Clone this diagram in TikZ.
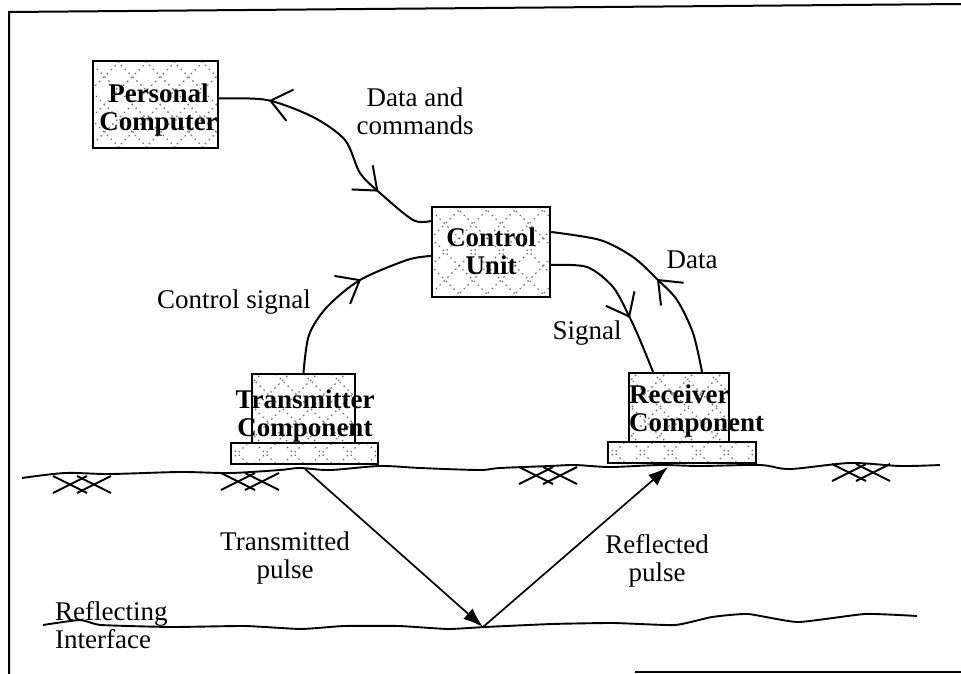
\documentclass[tikz,border=0pt]{standalone}
\usepackage{fontspec}
\setmainfont{Liberation Serif}
\usetikzlibrary{arrows.meta,decorations.markings,calc}
\newcommand\patbox[4]{%
  \begin{scope}
    \clip (#1,#2) rectangle (#3,#4);
    \foreach \k in {0,28,...,420}{
      \draw[patl] (#1-200+\k,#2) -- ++(200,200);
      \draw[patl] (#1-200+\k,#4) -- ++(200,-200);
    }
  \end{scope}}
\newcommand\gmark[2]{%
  \foreach \d in {-12,12}{
    \draw[gl] (#1+\d-17,#2-8) -- (#1+\d+17,#2+9);
    \draw[gl] (#1+\d-17,#2+9) -- (#1+\d+17,#2-8);
  }}
\tikzset{
  lbl/.style={font=\fontsize{27}{28}\selectfont, align=center, inner sep=0pt},
  blbl/.style={font=\fontsize{27}{28}\selectfont\bfseries, align=center, inner sep=0pt},
  unit/.style={draw, line width=2.4pt, inner sep=0pt},
  patl/.style={black!55, line width=1.3pt, dash pattern=on 1.5pt off 4pt},
  gl/.style={line width=2pt},
  conn/.style={line width=2pt},
  barb/.style={postaction={decorate, decoration={markings,
      mark=at position #1 with {\arrow[line width=2pt]{Straight Barb[length=20pt,width=32pt]}}}}},
  rbarb/.style={postaction={decorate, decoration={markings,
      mark=at position #1 with {\arrowreversed[line width=2pt]{Straight Barb[length=20pt,width=32pt]}}}}},
  pulse/.style={line width=1.7pt, -{Latex[length=20pt,width=14pt]}},
}
\begin{document}
\begin{tikzpicture}[x=1pt,y=-1pt]
\useasboundingbox (0,0) rectangle (961,674);
\fill[white] (0,0) rectangle (961,674);
% frame
\draw[line width=2pt] (9,674) -- (9,12) -- (961,4);
\draw[line width=2pt] (635,672) -- (961,672);

% patterned boxes
\patbox{93}{61}{218}{148}
\patbox{432}{207}{550}{297}
\patbox{252}{374}{355}{443}
\patbox{231}{443}{378}{464}
\patbox{629}{373}{729}{442}
\patbox{608}{442}{756}{463}

\node[unit, minimum width=125pt, minimum height=87pt] (pc) at (155.5,104.5) {};
\node[unit, minimum width=118pt, minimum height=90pt] (cu) at (491,252) {};
\node[unit, minimum width=103pt, minimum height=69pt] (tx) at (303.5,408.5) {};
\node[unit, minimum width=147pt, minimum height=21pt] (txb) at (304.5,453.5) {};
\node[unit, minimum width=100pt, minimum height=69pt] (rx) at (679,407.5) {};
\node[unit, minimum width=148pt, minimum height=21pt] (rxb) at (682,452.5) {};

% box labels
\node[blbl] (pct) at (158.5,110) {Personal\\Computer};
\node[blbl] (cut) at (491,251) {Control\\Unit};
\node[blbl] (txt) at (305,416) {Transmitter\\Component};
\node[blbl, align=left, anchor=west] (rxt) at (629,411) {Receiver\\Component};

% ground surface
\draw[line width=1.9pt] plot[smooth, tension=0.5] coordinates {(22,478) (65,473) (110,474) (180,472) (230,473) (280,470) (300,468) (330,470) (380,466) (420,468) (479,470) (500,468) (550,466) (575,465) (610,467) (660,465) (700,466) (760,465) (790,469) (850,463) (900,466) (940,465)};
\gmark{82}{484}
\gmark{250}{481}
\gmark{548}{475}
\gmark{861}{472}

% reflecting interface
\draw[line width=1.9pt] plot[smooth, tension=0.3] coordinates {(43,625) (80,620) (101,625) (172,627) (245,626) (301,629) (344,626) (399,626) (448,629) (485,627) (552,624) (613,623) (675,625) (712,617) (748,614) (798,622) (865,614) (917,616)};

% pulses
\coordinate (tpt) at (305,469);
\coordinate (rpt) at (483,627);
\coordinate (gpt) at (668,467);
\draw[pulse] (tpt) -- (rpt);
\draw[pulse] (rpt) -- (gpt);

% connectors
\draw[conn, rbarb=0.19, barb=0.76] plot[smooth, tension=0.5] coordinates {([yshift=6pt]pc.east) (267,100) (313,117) (345,140) (360,173) (380,193) (413,220) ([yshift=31pt]cu.west)};
\draw[conn, barb=0.61] plot[smooth, tension=0.5] coordinates {(tx.north) (309,335) (327,307) (360,280) (407,260) ([yshift=-4pt]cu.west)};
\draw[conn, barb=0.64] plot[smooth, tension=0.5] coordinates {([yshift=-13pt]cu.east) (587,267) (613,287) (630,318) (640,340) ([xshift=-26pt]rx.north)};
\draw[conn, barb=0.47] plot[smooth, tension=0.5] coordinates {([xshift=23pt]rx.north) (693,333) (677,300) (658,280) (633,257) (600,240) ([yshift=20pt]cu.east)};

% labels
\node[lbl] (l1) at (415,111) {Data and\\commands};
\node[lbl] (l2) at (234,302) {Control signal};
\node[lbl] (l3) at (587,333) {Signal};
\node[lbl] (l4) at (692,260) {Data};
\node[lbl] (l5) at (285,558) {Transmitted\\pulse};
\node[lbl] (l6) at (657,561) {Reflected\\pulse};
\node[lbl, align=left, anchor=west] (l7) at (55,625) {Reflecting\\Interface};
\end{tikzpicture}
\end{document}
